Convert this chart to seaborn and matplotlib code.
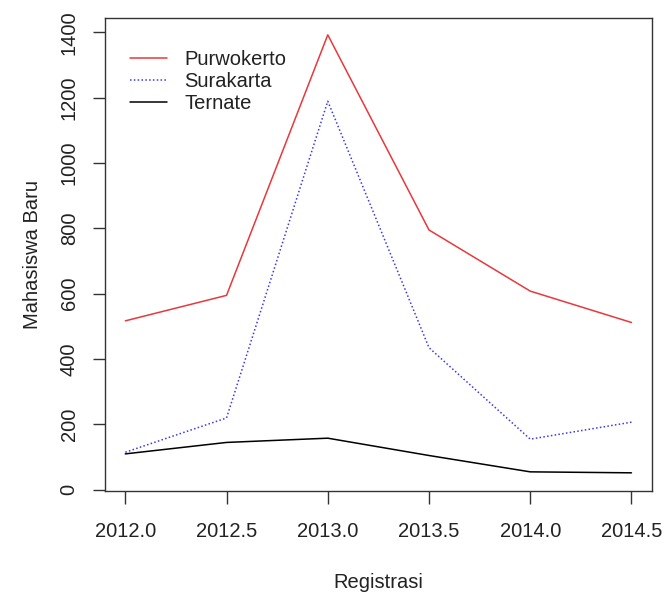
import pandas as pd
import matplotlib
matplotlib.use("Agg")
import matplotlib.pyplot as plt
import seaborn as sns

# Data
registrasi = [2012.0, 2012.5, 2013.0, 2013.5, 2014.0, 2014.5]
purwokerto = [517, 595, 1392, 795, 608, 512]
surakarta = [115, 220, 1189, 435, 155, 207]
ternate = [110, 145, 158, 105, 55, 52]
kota = ["Purwokerto", "Surakarta", "Ternate"]

data = pd.DataFrame({
    "Registrasi": registrasi * 3,
    "Mahasiswa Baru": purwokerto + surakarta + ternate,
    "Kota": [k for k in kota for _ in registrasi],
})

sns.set_style("white")
plt.rcParams["font.family"] = ["Liberation Sans", "DejaVu Sans"]

fig = plt.figure(figsize=(6.65, 5.94), dpi=100)
ax = fig.add_axes([0.158, 0.1734, 0.822, 0.7963])

sns.lineplot(
    data=data, x="Registrasi", y="Mahasiswa Baru", hue="Kota", style="Kota",
    palette={"Purwokerto": "#e8383d", "Surakarta": "#3a3ae8", "Ternate": "black"},
    dashes={"Purwokerto": "", "Surakarta": (1, 1.5), "Ternate": ""},
    linewidth=1.1, ax=ax, legend=True,
)

# R-style limits (4% padding)
ax.set_xlim(2011.9, 2014.6)
ax.set_ylim(-3.6, 1443.6)
ax.set_xticks(registrasi)
ax.set_xticklabels([f"{v:.1f}" for v in registrasi])
ax.set_yticks(range(0, 1401, 200))
ax.set_yticklabels([str(v) for v in range(0, 1401, 200)], rotation=90, va="center")

fs = 14.5
ax.tick_params(axis="both", direction="out", length=9, width=1, colors="#333333",
               labelsize=fs, labelcolor="#222222", bottom=True, left=True)
ax.tick_params(axis="x", pad=13)
ax.tick_params(axis="y", pad=10)
for s in ax.spines.values():
    s.set_color("#333333")
    s.set_linewidth(1.0)

ax.set_xlabel("Registrasi", fontsize=fs, color="#222222", labelpad=23)
ax.set_ylabel("Mahasiswa Baru", fontsize=fs, color="#222222", labelpad=13)

leg = ax.legend(loc="upper left", frameon=False, fontsize=fs, handlelength=1.85,
                handletextpad=0.85, labelspacing=0.15, borderaxespad=0.0,
                bbox_to_anchor=(0.031, 0.95))
for t in leg.get_texts():
    t.set_color("#222222")

plt.savefig("out.png", dpi=100)
plt.close()
